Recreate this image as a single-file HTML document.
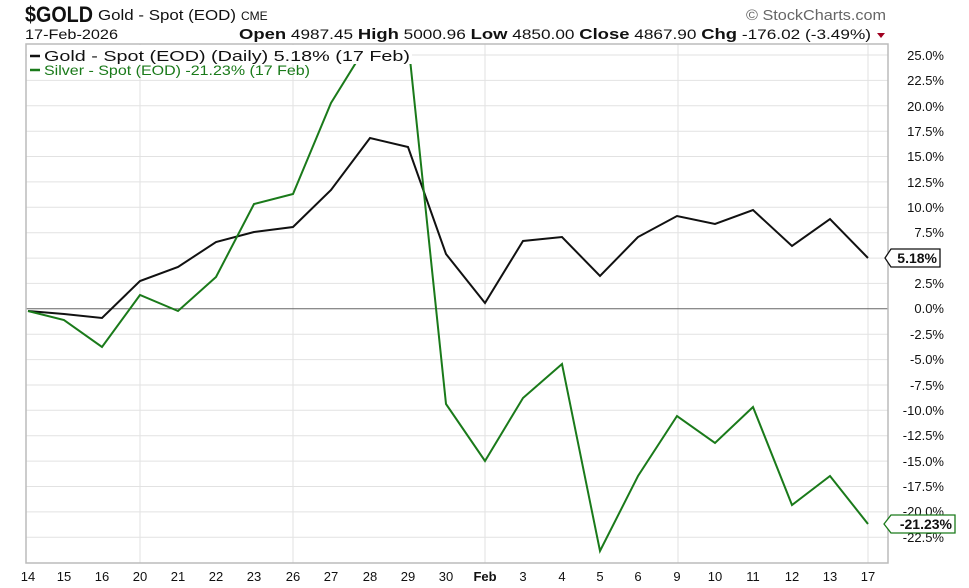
<!DOCTYPE html>
<html><head><meta charset="utf-8"><style>
body{margin:0;background:#fff;}
svg{display:block;font-family:"Liberation Sans",Arial,sans-serif;}
</style></head><body>
<svg width="969" height="588" viewBox="0 0 969 588" xmlns="http://www.w3.org/2000/svg">
<defs><clipPath id="pc"><rect x="26" y="45" width="862" height="518"/></clipPath></defs>
<rect width="969" height="588" fill="#fff"/>
<text x="25" y="22" font-size="22" font-weight="bold" fill="#111" textLength="68" lengthAdjust="spacingAndGlyphs">$GOLD</text>
<text x="98" y="20" font-size="15" fill="#111" textLength="138" lengthAdjust="spacingAndGlyphs">Gold - Spot (EOD)</text>
<text x="241" y="20" font-size="12" fill="#111">CME</text>
<text x="746" y="20" font-size="15" fill="#666" textLength="140" lengthAdjust="spacingAndGlyphs">© StockCharts.com</text>
<text x="25" y="39" font-size="14" fill="#111" textLength="93" lengthAdjust="spacingAndGlyphs">17-Feb-2026</text>
<text x="239" y="39" font-size="14" fill="#111" textLength="632" lengthAdjust="spacingAndGlyphs"><tspan font-weight="bold" font-size="15">Open</tspan> 4987.45 <tspan font-weight="bold" font-size="15">High</tspan> 5000.96 <tspan font-weight="bold" font-size="15">Low</tspan> 4850.00 <tspan font-weight="bold" font-size="15">Close</tspan> 4867.90 <tspan font-weight="bold" font-size="15">Chg</tspan> -176.02 (-3.49%)</text>
<polygon points="877,33 885,33 881,38" fill="#a00020"/>
<g stroke="#e2e2e2" stroke-width="1">
<line x1="26" x2="888" y1="55" y2="55"/><line x1="26" x2="888" y1="80.4" y2="80.4"/><line x1="26" x2="888" y1="105.8" y2="105.8"/><line x1="26" x2="888" y1="131.2" y2="131.2"/><line x1="26" x2="888" y1="156.5" y2="156.5"/><line x1="26" x2="888" y1="181.9" y2="181.9"/><line x1="26" x2="888" y1="207.3" y2="207.3"/><line x1="26" x2="888" y1="232.7" y2="232.7"/><line x1="26" x2="888" y1="258.1" y2="258.1"/><line x1="26" x2="888" y1="283.4" y2="283.4"/><line x1="26" x2="888" y1="334.2" y2="334.2"/><line x1="26" x2="888" y1="359.6" y2="359.6"/><line x1="26" x2="888" y1="385" y2="385"/><line x1="26" x2="888" y1="410.3" y2="410.3"/><line x1="26" x2="888" y1="435.7" y2="435.7"/><line x1="26" x2="888" y1="461.1" y2="461.1"/><line x1="26" x2="888" y1="486.5" y2="486.5"/><line x1="26" x2="888" y1="511.9" y2="511.9"/><line x1="26" x2="888" y1="537.2" y2="537.2"/>
<line x1="140" x2="140" y1="44" y2="563"/><line x1="293" x2="293" y1="44" y2="563"/><line x1="485" x2="485" y1="44" y2="563"/><line x1="678" x2="678" y1="44" y2="563"/><line x1="868" x2="868" y1="44" y2="563"/>
</g>
<line x1="26" x2="888" y1="308.8" y2="308.8" stroke="#666" stroke-width="1"/>
<g clip-path="url(#pc)">
<polyline fill="none" stroke="#111" stroke-width="2" points="28,311 64,314 102,318 140,281 178,267 216,242 254,232 293,227 331,190 370,138 408,147 446,254 485,303 523,241 562,237 600,276 638,237 677,216 715,224 753,210 792,246 830,219 868,258"/>
<polyline fill="none" stroke="#1a7a1a" stroke-width="2" points="28,311 64,320 102,347 140,295 178,311 216,277 254,204 293,194 331,103 370,40 408,40 446,404 485,461 523,398 562,364 600,551 638,476 677,416 715,443 753,407 792,505 830,476 868,524"/>
</g>
<rect x="26" y="44" width="862" height="519" fill="none" stroke="#bbb" stroke-width="1.5"/>
<rect x="27" y="45" width="385" height="19" fill="#fff"/>
<line x1="30" x2="40" y1="56" y2="56" stroke="#111" stroke-width="2.5"/>
<text x="44" y="61" font-size="15" fill="#111" textLength="366" lengthAdjust="spacingAndGlyphs">Gold - Spot (EOD) (Daily) 5.18% (17 Feb)</text>
<line x1="30" x2="40" y1="70" y2="70" stroke="#1a7a1a" stroke-width="2.5"/>
<text x="44" y="75" font-size="14" fill="#1a7a1a" textLength="266" lengthAdjust="spacingAndGlyphs">Silver - Spot (EOD) -21.23% (17 Feb)</text>
<g font-size="13" fill="#111" text-anchor="end">
<text x="944" y="60">25.0%</text><text x="944" y="85">22.5%</text><text x="944" y="111">20.0%</text><text x="944" y="136">17.5%</text><text x="944" y="161">15.0%</text><text x="944" y="187">12.5%</text><text x="944" y="212">10.0%</text><text x="944" y="237">7.5%</text><text x="944" y="288">2.5%</text><text x="944" y="313">0.0%</text><text x="944" y="339">-2.5%</text><text x="944" y="364">-5.0%</text><text x="944" y="390">-7.5%</text><text x="944" y="415">-10.0%</text><text x="944" y="440">-12.5%</text><text x="944" y="466">-15.0%</text><text x="944" y="491">-17.5%</text><text x="944" y="516">-20.0%</text><text x="944" y="542">-22.5%</text>
</g>
<polygon points="885,258 891,249 940,249 940,267 891,267" fill="#fff" stroke="#111" stroke-width="1.3"/>
<text x="937" y="263" font-size="14" font-weight="bold" text-anchor="end" fill="#111">5.18%</text>
<polygon points="884,524 891,515 955,515 955,533 891,533" fill="#fff" stroke="#1a7a1a" stroke-width="1.3"/>
<text x="952" y="529" font-size="14" font-weight="bold" text-anchor="end" fill="#111">-21.23%</text>
<g font-size="13" fill="#111" text-anchor="middle">
<text x="28" y="581">14</text><text x="64" y="581">15</text><text x="102" y="581">16</text><text x="140" y="581">20</text><text x="178" y="581">21</text><text x="216" y="581">22</text><text x="254" y="581">23</text><text x="293" y="581">26</text><text x="331" y="581">27</text><text x="370" y="581">28</text><text x="408" y="581">29</text><text x="446" y="581">30</text><text x="485" y="581" font-weight="bold">Feb</text><text x="523" y="581">3</text><text x="562" y="581">4</text><text x="600" y="581">5</text><text x="638" y="581">6</text><text x="677" y="581">9</text><text x="715" y="581">10</text><text x="753" y="581">11</text><text x="792" y="581">12</text><text x="830" y="581">13</text><text x="868" y="581">17</text>
</g>
</svg>
</body></html>
